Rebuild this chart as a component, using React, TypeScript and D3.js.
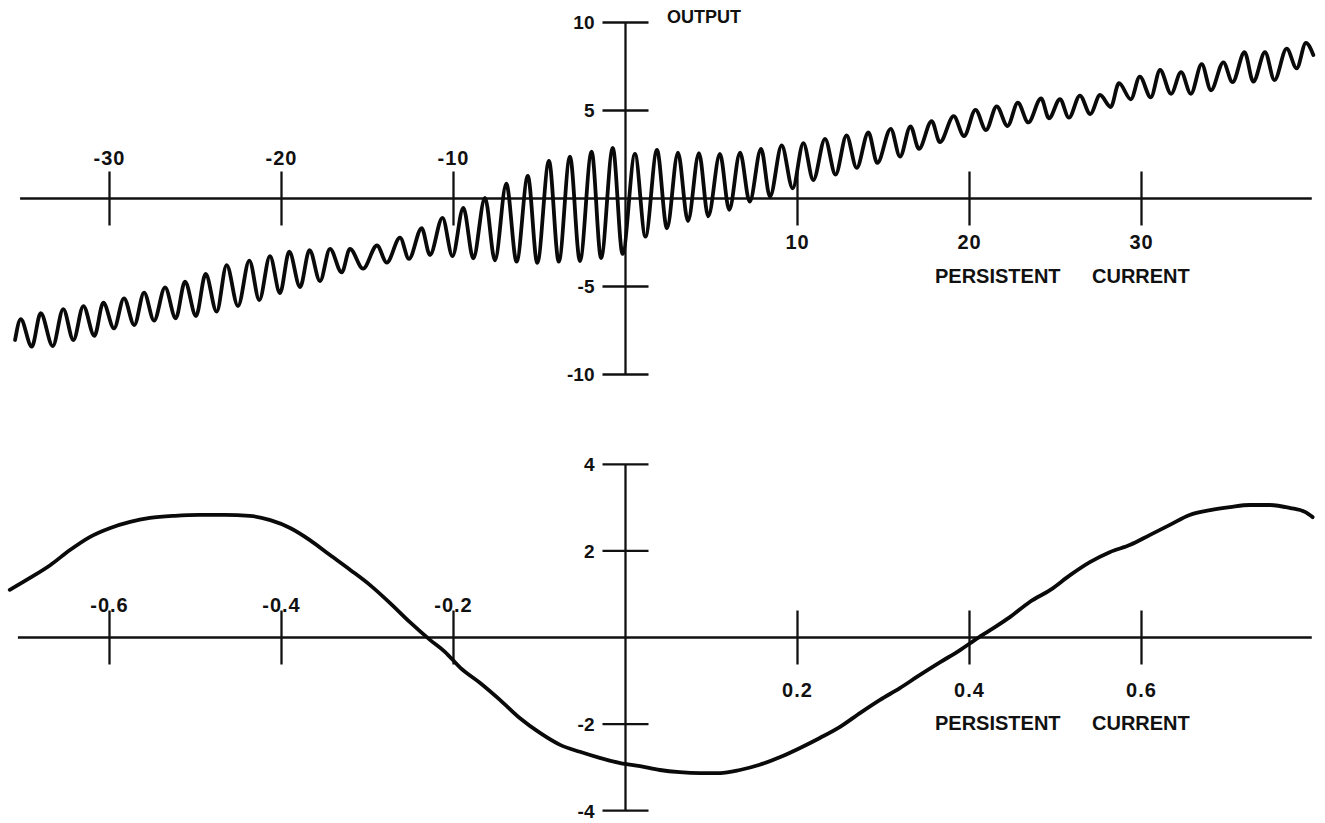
import React from 'react';
import * as d3 from 'd3';

const W = 1325;
const H = 823;

// Upper trace: successive peaks and troughs of the output vs persistent current
const topTrace: [number, number][] = [
  [-35.49, -8.04], [-35.16, -6.86], [-34.52, -8.42], [-34.0, -6.52], [-33.3, -8.38],
  [-32.69, -6.28], [-32.1, -8.04], [-31.52, -6.11], [-30.88, -7.81], [-30.36, -5.92],
  [-29.74, -7.38], [-29.16, -5.67], [-28.56, -7.19], [-27.99, -5.35], [-27.41, -6.94],
  [-26.77, -5.05], [-26.15, -6.81], [-25.61, -4.73], [-24.97, -6.68], [-24.41, -4.29],
  [-23.77, -6.43], [-23.19, -3.78], [-22.53, -6.11], [-21.87, -3.53], [-21.29, -5.77],
  [-20.67, -3.27], [-20.09, -5.37], [-19.55, -3.02], [-18.92, -5.03], [-18.37, -2.93],
  [-17.76, -4.69], [-17.18, -2.86], [-16.5, -4.2], [-16.02, -2.86], [-15.26, -3.99],
  [-14.45, -2.67], [-13.88, -3.64], [-13.11, -2.22], [-12.59, -3.43], [-11.85, -1.69],
  [-11.37, -3.21], [-10.64, -1.1], [-10.06, -3.27], [-9.43, -0.53], [-8.85, -3.4],
  [-8.17, 0.04], [-7.59, -3.51], [-6.93, 0.84], [-6.33, -3.59], [-5.68, 1.28],
  [-5.13, -3.66], [-4.45, 2.13], [-3.88, -3.59], [-3.23, 2.38], [-2.65, -3.55],
  [-1.97, 2.66], [-1.42, -3.38], [-0.74, 2.87], [-0.17, -3.15], [0.55, 2.53],
  [1.16, -2.17], [1.83, 2.76], [2.41, -1.69], [3.05, 2.6], [3.63, -1.28],
  [4.27, 2.57], [4.81, -1.01], [5.49, 2.53], [6.03, -0.64], [6.66, 2.61],
  [7.22, -0.18], [7.88, 2.82], [8.4, 0.1], [9.08, 3.01], [9.72, 0.58],
  [10.34, 3.15], [10.92, 1.05], [11.6, 3.39], [12.21, 1.36], [12.85, 3.58],
  [13.44, 1.74], [14.12, 3.75], [14.64, 2.02], [15.42, 3.96], [15.96, 2.38],
  [16.57, 4.1], [17.06, 2.82], [17.8, 4.4], [18.28, 3.2], [19.08, 4.68],
  [19.68, 3.55], [20.35, 5.03], [20.96, 3.89], [21.58, 5.24], [22.21, 4.12],
  [22.81, 5.44], [23.42, 4.32], [24.16, 5.69], [24.62, 4.56], [25.26, 5.64],
  [25.78, 4.59], [26.42, 5.85], [27.02, 4.8], [27.59, 5.88], [28.21, 5.2],
  [28.69, 6.55], [29.38, 5.64], [29.9, 6.92], [30.54, 5.75], [31.08, 7.3],
  [31.72, 5.95], [32.3, 7.18], [32.87, 5.95], [33.5, 7.63], [34.04, 6.15],
  [34.76, 7.74], [35.29, 6.61], [35.99, 8.31], [36.5, 6.64], [37.18, 8.31],
  [37.73, 6.73], [38.44, 8.51], [39.02, 7.4], [39.56, 8.84], [39.99, 8.15],
];

// Lower trace: one period of the output, finer persistent-current scale
const bottomTrace: [number, number][] = [
  [-0.716, 1.1], [-0.693, 1.37], [-0.669, 1.67], [-0.646, 2.02], [-0.623, 2.32],
  [-0.599, 2.53], [-0.576, 2.67], [-0.553, 2.76], [-0.524, 2.81], [-0.495, 2.83],
  [-0.466, 2.83], [-0.437, 2.81], [-0.413, 2.71], [-0.39, 2.53], [-0.367, 2.25],
  [-0.344, 1.91], [-0.32, 1.56], [-0.297, 1.21], [-0.274, 0.8], [-0.251, 0.36],
  [-0.227, -0.06], [-0.21, -0.33], [-0.192, -0.7], [-0.169, -1.05], [-0.146, -1.44],
  [-0.123, -1.86], [-0.099, -2.21], [-0.076, -2.48], [-0.053, -2.64], [-0.03, -2.78],
  [-0.006, -2.9], [0.017, -2.97], [0.04, -3.06], [0.063, -3.11], [0.087, -3.13],
  [0.11, -3.13], [0.133, -3.06], [0.156, -2.94], [0.18, -2.76], [0.203, -2.55],
  [0.226, -2.32], [0.249, -2.07], [0.273, -1.74], [0.296, -1.44], [0.319, -1.17],
  [0.342, -0.87], [0.366, -0.57], [0.389, -0.29], [0.406, -0.06], [0.424, 0.17],
  [0.447, 0.47], [0.47, 0.82], [0.494, 1.1], [0.517, 1.44], [0.54, 1.74],
  [0.563, 1.97], [0.587, 2.14], [0.61, 2.37], [0.633, 2.6], [0.656, 2.83],
  [0.68, 2.94], [0.703, 3.01], [0.726, 3.06], [0.749, 3.06], [0.773, 2.99],
  [0.79, 2.9], [0.799, 2.78],
];

const topXTicks = [-30, -20, -10, 10, 20, 30];
const topXTickLabels = ['-30', '-20', '-10', '10', '20', '30'];
const topYTicks = [10, 5, -5, -10];
const topYTickLabels = ['10', '5', '-5', '-10'];

const bottomXTicks = [-0.6, -0.4, -0.2, 0.2, 0.4, 0.6];
const bottomXTickLabels = ['-0.6', '-0.4', '-0.2', '0.2', '0.4', '0.6'];
const bottomYTicks = [4, 2, -2, -4];
const bottomYTickLabels = ['4', '2', '-2', '-4'];

const xTitleLeft = 'PERSISTENT';
const xTitleRight = 'CURRENT';
const yTitle = 'OUTPUT';

const FONT = "'Liberation Sans', Arial, Helvetica, sans-serif";

type PanelProps = {
  trace: [number, number][];
  xScale: d3.ScaleLinear<number, number>;
  yScale: d3.ScaleLinear<number, number>;
  xExtent: [number, number];
  yExtent: [number, number];
  xTicks: number[];
  xTickLabels: string[];
  yTicks: number[];
  yTickLabels: string[];
  aboveOffset: number;
  belowOffset: number;
  titleOffset: number;
};

function Panel(p: PanelProps) {
  const { xScale: x, yScale: y } = p;
  const x0 = x(0);
  const y0 = y(0);
  const line = d3
    .line<[number, number]>()
    .x((d) => x(d[0]))
    .y((d) => y(d[1]))
    .curve(d3.curveMonotoneX);

  return (
    <g>
      {/* axes */}
      <line x1={x(p.xExtent[0])} x2={x(p.xExtent[1])} y1={y0} y2={y0} stroke="#111" strokeWidth={2.3} />
      <line x1={x0} x2={x0} y1={y(p.yExtent[1])} y2={y(p.yExtent[0])} stroke="#111" strokeWidth={2.3} />
      {p.yTicks.map((t, i) => (
        <g key={'y' + t}>
          <line x1={x0 - 23} x2={x0 + 23} y1={y(t)} y2={y(t)} stroke="#111" strokeWidth={2.3} />
          <text x={x0 - 31} y={y(t)} dy="0.36em" textAnchor="end" fontSize={19} fontWeight="bold" fontFamily={FONT} fill="#111">
            {p.yTickLabels[i]}
          </text>
        </g>
      ))}
      {p.xTicks.map((t, i) => (
        <g key={'x' + t}>
          <line x1={x(t)} x2={x(t)} y1={y0 - 27} y2={y0 + 27} stroke="#111" strokeWidth={2.3} />
          <text
            x={x(t)}
            y={t < 0 ? y0 - p.aboveOffset : y0 + p.belowOffset}
            textAnchor="middle"
            fontSize={20}
            fontWeight="bold"
            fontFamily={FONT}
            letterSpacing={1}
            fill="#111"
          >
            {p.xTickLabels[i]}
          </text>
        </g>
      ))}
      <text x={935} y={y0 + p.titleOffset} fontSize={20} fontWeight="bold" fontFamily={FONT} fill="#111">
        {xTitleLeft}
      </text>
      <text x={1092} y={y0 + p.titleOffset} fontSize={20} fontWeight="bold" fontFamily={FONT} fill="#111">
        {xTitleRight}
      </text>
      <path d={line(p.trace) || ''} fill="none" stroke="#0a0a0a" strokeWidth={3.8} strokeLinejoin="round" strokeLinecap="round" />
    </g>
  );
}

export default function App() {
  const xTop = d3.scaleLinear().domain([-30, 30]).range([109.5, 1141.5]);
  const yTop = d3.scaleLinear().domain([-10, 10]).range([374.5, 22.5]);
  const xBottom = d3.scaleLinear().domain([-0.6, 0.6]).range([109.5, 1141.5]);
  const yBottom = d3.scaleLinear().domain([-4, 4]).range([810.7, 464.3]);

  return (
    <svg
      width={W}
      height={H}
      viewBox={`0 0 ${W} ${H}`}
      style={{ position: 'absolute', left: 0, top: 0, background: '#fff' }}
    >
      <rect width={W} height={H} fill="#fff" />
      <Panel
        trace={topTrace}
        xScale={xTop}
        yScale={yTop}
        xExtent={[-35.2, 39.9]}
        yExtent={[-10, 10]}
        xTicks={topXTicks}
        xTickLabels={topXTickLabels}
        yTicks={topYTicks}
        yTickLabels={topYTickLabels}
        aboveOffset={34}
        belowOffset={50}
        titleOffset={84}
      />
      <text x={667} y={23} fontSize={18} fontWeight="bold" fontFamily={FONT} fill="#111">
        {yTitle}
      </text>
      <Panel
        trace={bottomTrace}
        xScale={xBottom}
        yScale={yBottom}
        xExtent={[-0.7065, 0.798]}
        yExtent={[-4, 4]}
        xTicks={bottomXTicks}
        xTickLabels={bottomXTickLabels}
        yTicks={bottomYTicks}
        yTickLabels={bottomYTickLabels}
        aboveOffset={26}
        belowOffset={59}
        titleOffset={92}
      />
    </svg>
  );
}
